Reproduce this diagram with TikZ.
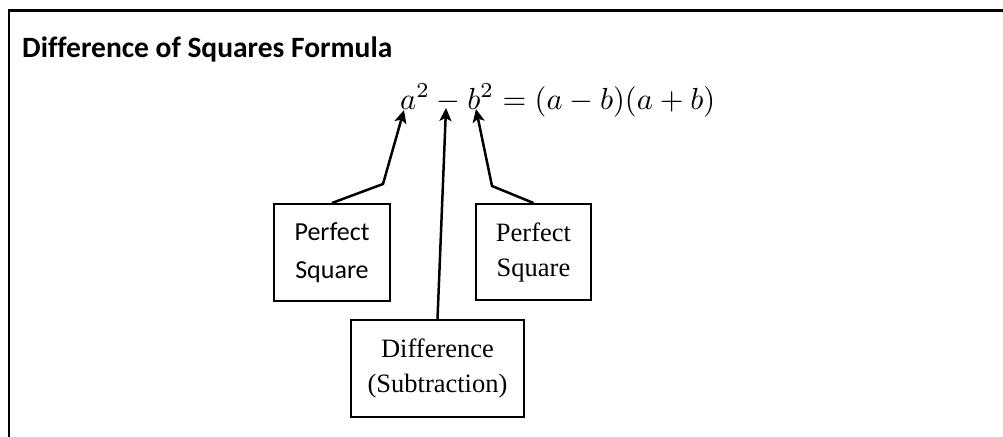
\documentclass[tikz,border=0pt]{standalone}
\usepackage{fontspec}
\usepackage{graphicx}
\setmainfont{Liberation Serif}
\newfontfamily\calib[Ligatures=NoCommon]{Carlito}
\usetikzlibrary{arrows.meta,calc}
\begin{document}
\begin{tikzpicture}[x=1pt,y=-1pt,
  labelbox/.style={draw,line width=2pt,inner sep=0pt,align=center},
  pointer/.style={line width=2.5pt,-{Stealth[length=13pt,width=12pt,inset=3pt]}},
  frameline/.style={line width=2.6pt}]
\useasboundingbox (0,0) rectangle (1003,436);
\draw[frameline] (9,437) -- (9,10.5) -- (1004,10.5);
\node[anchor=base west,inner sep=0pt,font=\calib\bfseries\fontsize{29.5}{34}\selectfont] (title) at (22,57) {Difference of Squares Formula};
\node[anchor=base west,inner sep=0pt] (eq) at (400,109) {\resizebox{315pt}{!}{$a^2 - b^2 = (a-b)(a+b)$}};
\node[labelbox,minimum width=116pt,minimum height=97pt,font=\calib\fontsize{26}{38}\selectfont] (lb) at (332,252.5) {Perfect\\Square};
\node[labelbox,minimum width=115pt,minimum height=96pt,font=\fontsize{26.5}{35}\selectfont] (rb) at (533.5,252) {Perfect\\Square};
\node[labelbox,minimum width=173pt,minimum height=97pt,font=\fontsize{26.5}{35}\selectfont] (db) at (437.5,368.5) {Difference\\(Subtraction)};
\coordinate (le) at (383,184);
\coordinate (lt) at (404,110);
\coordinate (mt) at (446,108);
\coordinate (re) at (492,186);
\coordinate (rt) at (476,109);
\draw[pointer] (lb.north) -- (le) -- (lt);
\draw[pointer] (db.north) -- (mt);
\draw[pointer] (rb.north) -- (re) -- (rt);
\end{tikzpicture}
\end{document}
